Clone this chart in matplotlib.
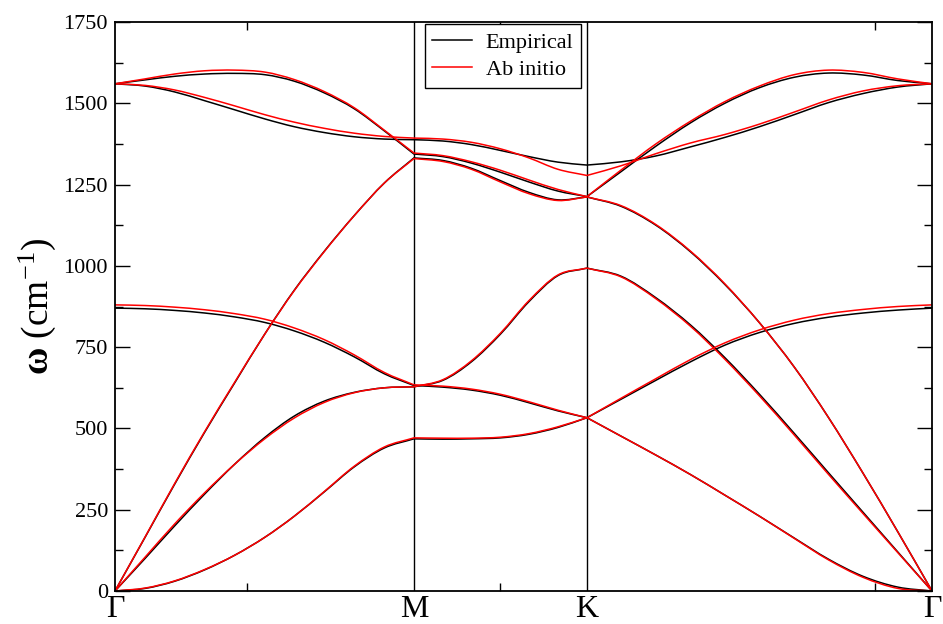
import numpy as np
import matplotlib
matplotlib.use("Agg")
import matplotlib.pyplot as plt
from matplotlib.path import Path
from matplotlib.patches import PathPatch
from matplotlib.lines import Line2D

plt.rcParams['font.family'] = ['Liberation Serif', 'DejaVu Serif']
plt.rcParams['mathtext.fontset'] = 'custom'
plt.rcParams['mathtext.rm'] = 'Liberation Serif'
plt.rcParams['mathtext.bf'] = 'Liberation Serif:bold'
plt.rcParams['mathtext.it'] = 'Liberation Serif:italic'

# path coordinate: Gamma - M - K - Gamma
k = [0.000, 0.058, 0.115, 0.173, 0.231, 0.289, 0.346, 0.404, 0.462, 0.520, 0.577,
     0.633, 0.688, 0.744, 0.799, 0.855, 0.911,
     0.977, 1.044, 1.111, 1.177, 1.244, 1.311, 1.377, 1.444, 1.511, 1.577]
k_labels = [0.0, 0.577, 0.911, 1.577]
k_names = ["Γ", "M", "K", "Γ"]
k_minor = [0.255, 0.743, 1.467]
seg_ends = [0, 10, 16, 26]   # index of Γ, M, K, Γ in k

# empirical model (cm-1), one list per branch
za_emp = [0, 8, 30, 65, 110, 165, 230, 305, 382, 440, 468,
          467, 468, 471, 482, 503, 533,
          476, 418, 358, 295, 230, 163, 98, 45, 12, 0]
ta_emp = [0, 100, 200, 298, 390, 472, 538, 584, 611, 625, 628,
          648, 705, 790, 890, 970, 993,
          968, 902, 818, 718, 605, 485, 364, 242, 120, 0]
zo_emp = [870, 868, 863, 855, 843, 826, 800, 765, 720, 668, 632,
          627, 618, 602, 579, 554, 533,
          590, 648, 705, 756, 795, 823, 842, 855, 864, 870]
la_emp = [0, 165, 328, 488, 640, 790, 925, 1045, 1155, 1255, 1332,
          1324, 1300, 1262, 1226, 1203, 1212,
          1183, 1125, 1043, 943, 825, 689, 534, 362, 182, 0]
lo_emp = [1560, 1572, 1583, 1590, 1592, 1588, 1568, 1532, 1483, 1415, 1344,
          1336, 1316, 1288, 1258, 1230, 1213,
          1290, 1368, 1440, 1500, 1548, 1580, 1593, 1587, 1570, 1560]
to_emp = [1560, 1553, 1535, 1508, 1480, 1452, 1428, 1410, 1397, 1390, 1388,
          1384, 1373, 1355, 1336, 1319, 1310,
          1320, 1338, 1366, 1395, 1428, 1465, 1502, 1530, 1550, 1560]

# ab initio
za_ab = [0, 9, 31, 66, 110, 165, 230, 306, 384, 443, 471,
         470, 470, 473, 484, 505, 533,
         476, 418, 358, 295, 230, 162, 96, 42, 8, 0]
ta_ab = [0, 104, 206, 302, 390, 468, 532, 580, 610, 625, 628,
         650, 708, 793, 893, 972, 993,
         966, 899, 814, 713, 600, 480, 359, 238, 118, 0]
zo_ab = [880, 878, 873, 865, 853, 836, 809, 773, 726, 672, 634,
         630, 621, 605, 582, 556, 533,
         593, 653, 712, 763, 803, 833, 853, 866, 875, 880]
la_ab = [0, 166, 330, 490, 642, 790, 924, 1044, 1155, 1255, 1330,
         1321, 1297, 1258, 1222, 1201, 1212,
         1185, 1127, 1045, 945, 825, 689, 534, 362, 182, 0]
lo_ab = [1560, 1575, 1590, 1600, 1602, 1596, 1573, 1536, 1486, 1417, 1347,
         1339, 1320, 1294, 1264, 1235, 1213,
         1295, 1375, 1445, 1505, 1553, 1588, 1602, 1595, 1575, 1560]
to_ab = [1560, 1555, 1541, 1518, 1492, 1465, 1442, 1423, 1408, 1398, 1393,
         1390, 1380, 1360, 1332, 1297, 1278,
         1308, 1345, 1378, 1404, 1436, 1473, 1510, 1538, 1554, 1560]

empirical = [za_emp, ta_emp, zo_emp, la_emp, lo_emp, to_emp]
abinitio = [za_ab, ta_ab, zo_ab, la_ab, lo_ab, to_ab]


def smooth_path(xs, ys):
    # bezier curve through the points, each high-symmetry segment on its own
    p = np.column_stack([xs, ys]).astype(float)
    verts = [p[0]]
    codes = [Path.MOVETO]
    for a, b in zip(seg_ends[:-1], seg_ends[1:]):
        s = p[a:b + 1]
        s = np.vstack([2 * s[0] - s[1], s, 2 * s[-1] - s[-2]])
        for i in range(1, len(s) - 2):
            c1 = s[i] + (s[i + 1] - s[i - 1]) / 6.0
            c2 = s[i + 1] - (s[i + 2] - s[i]) / 6.0
            verts += [c1, c2, s[i + 1]]
            codes += [Path.CURVE4] * 3
    return Path(verts, codes)


fig = plt.figure(figsize=(9.43, 6.24), dpi=100)
ax = fig.add_axes([0.12195, 0.05288, 0.86639, 0.91186])

for b in empirical:
    ax.add_patch(PathPatch(smooth_path(k, b), fill=False, edgecolor="black", lw=1.1))
for b in abinitio:
    ax.add_patch(PathPatch(smooth_path(k, b), fill=False, edgecolor="red", lw=1.1))

for xv in k_labels[1:3]:
    ax.axvline(xv, color="black", lw=1.0, zorder=0)

ax.set_xlim(0, 1.577)
ax.set_ylim(0, 1750)

ax.set_xticks(k_labels)
ax.set_xticklabels(k_names, fontsize=23)
ax.set_xticks(k_minor, minor=True)
ax.set_yticks(np.arange(0, 1751, 250))
ax.set_yticks(np.arange(125, 1750, 250), minor=True)
ax.tick_params(axis="y", which="major", direction="in", length=11, width=1.0,
               labelsize=16, right=True, pad=5)
ax.tick_params(axis="y", which="minor", direction="in", length=6, width=1.0, right=True)
ax.tick_params(axis="x", which="major", direction="in", length=0, pad=3, top=True)
ax.tick_params(axis="x", which="minor", direction="in", length=6, width=1.0, top=True)

for s in ax.spines.values():
    s.set_linewidth(1.3)

ax.set_ylabel(r"$\mathbf{\omega}$ (cm$^{\mathrm{-1}}$)", fontsize=27, labelpad=4)

handles = [Line2D([], [], color="black", lw=1.1), Line2D([], [], color="red", lw=1.1)]
leg = ax.legend(handles, ["Empirical", "Ab initio"], loc="upper left",
                bbox_to_anchor=(0.379, 0.996), fontsize=16,
                frameon=True, fancybox=False, edgecolor="black", framealpha=1,
                handlelength=1.8, handletextpad=0.6, borderpad=0.35,
                labelspacing=0.3, borderaxespad=0)
leg.get_frame().set_linewidth(1.0)

plt.savefig("out.png", dpi=100)
